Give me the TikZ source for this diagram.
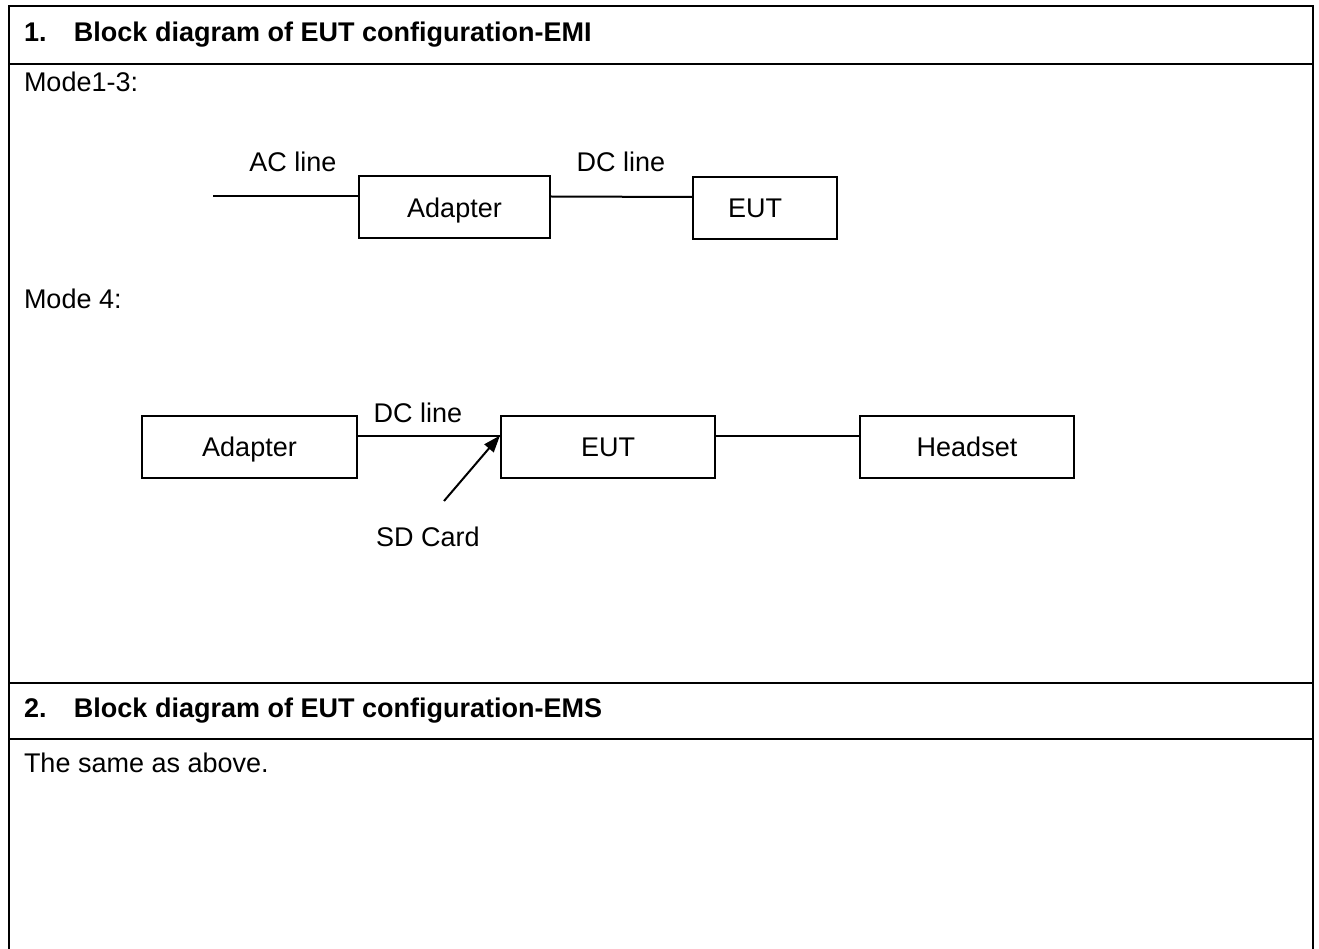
\documentclass[tikz,border=0pt]{standalone}
\usepackage{fontspec}
\setmainfont{Liberation Sans}
\usetikzlibrary{arrows.meta}
\begin{document}
\begin{tikzpicture}[x=1pt, y=-1pt, line width=2pt, line cap=rect,
    font=\fontsize{27}{32}\selectfont]

    % let's define some key values
    \def\xleft{9}
    \def\xright{1313}
    \def\ytop{6}
    \def\ytitleone{64}
    \def\ysectwo{683}
    \def\ytitletwo{739}
    \def\ytext{23}
    \def\wireoffset{11pt}

    % Styles
    \tikzstyle{box}=[draw, minimum height=62, inner sep=0,
        text height=24pt, text depth=4pt]
    \tikzstyle{label}=[anchor=west, inner sep=0]
    \tikzstyle{wirelabel}=[inner sep=0]

    \useasboundingbox (0,0) rectangle (1319,949);

    % table frame
    \draw (\xleft,949) -- (\xleft,\ytop) -- (\xright,\ytop) -- (\xright,949);
    \draw (\xleft,\ytitleone) -- (\xright,\ytitleone);
    \draw (\xleft,\ysectwo) -- (\xright,\ysectwo);
    \draw (\xleft,\ytitletwo) -- (\xright,\ytitletwo);

    % headings
    \node[label] (headone) at (\ytext,35)
        {\bfseries\makebox[50pt][l]{1.}Block diagram of EUT configuration-EMI};
    \node[label] (headtwo) at (\ytext,711)
        {\bfseries\makebox[50pt][l]{2.}Block diagram of EUT configuration-EMS};
    \node[label] (modeA) at (\ytext,82) {Mode1-3:};
    \node[label] (modeB) at (\ytext,299) {Mode 4:};
    \node[label] (same) at (\ytext,763) {The same as above.};

    % mode 1-3
    \coordinate (acend) at (214,196);
    \node[box, minimum width=191] (adpA) at (454.5,207.5) {Adapter};
    \node[box, minimum width=144] (eutA) at (765,208) {\hspace{-20pt}EUT};
    \draw (acend) -- (acend -| adpA.west);
    \draw ([yshift=\wireoffset]adpA.east) -- ([yshift=\wireoffset]eutA.west);
    \node[wirelabel] (aclabel) at (293,162) {AC line};
    \node[wirelabel] (dclabelA) at (621,162) {DC line};

    % mode 4
    \node[box, minimum width=215] (adpB) at (249.5,446.5) {Adapter};
    \node[box, minimum width=214] (eutB) at (608,446.5) {EUT};
    \node[box, minimum width=214] (head) at (967,446.5) {Headset};
    \draw ([yshift=\wireoffset]adpB.east) -- ([yshift=\wireoffset]eutB.west);
    \draw ([yshift=\wireoffset]eutB.east) -- ([yshift=\wireoffset]head.west);
    \node[wirelabel] (dclabelB) at (418,413) {DC line};

    % SD card
    \coordinate (sdtail) at (444,501);
    \node[wirelabel] (sdcard) at (428,537) {SD Card};
    \draw[-{Triangle[length=17pt,width=12pt]}, line cap=butt]
        (sdtail) -- ([yshift=\wireoffset]eutB.west);

\end{tikzpicture}
\end{document}
